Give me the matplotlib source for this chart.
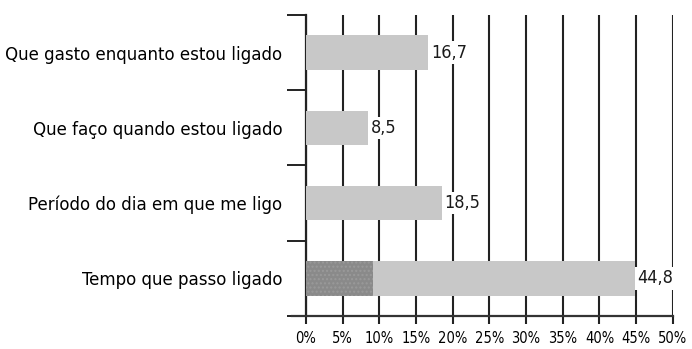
import matplotlib as mpl
mpl.rc('font', family=['DejaVu Sans'], stretch='condensed')
import matplotlib.pyplot as plt
import numpy as np

categories = ['Que gasto enquanto estou ligado',
              'Que faço quando estou ligado',
              'Período do dia em que me ligo',
              'Tempo que passo ligado']
totals = [16.7, 8.5, 18.5, 44.8]
dark_part = [0, 0, 0, 9.2]
value_labels = ['16,7', '8,5', '18,5', '44,8']
xticks = [0, 5, 10, 15, 20, 25, 30, 35, 40, 45, 50]

fig = plt.figure(figsize=(6.92, 3.49), dpi=100)
ax = fig.add_axes([0.442, 0.0946, 0.5304, 0.8624])

y = np.arange(len(categories))[::-1]
light = np.array(totals) - np.array(dark_part)
ax.barh(y, dark_part, height=0.46, color='#8a8a8a', hatch='....',
        edgecolor='#9a9a9a', linewidth=0, zorder=3)
ax.barh(y, light, left=dark_part, height=0.46, color='#c8c8c8', zorder=3)

for yi, t, lab in zip(y, totals, value_labels):
    ax.text(t + 0.4, yi, lab, va='center', ha='left', fontsize=13,
            color='#1a1a1a', zorder=4,
            bbox=dict(facecolor='white', edgecolor='none', pad=1.5))

ax.set_xlim(0, 50)
ax.set_ylim(-0.5, 3.5)
ax.set_xticks(xticks)
ax.set_xticklabels(['%d%%' % v for v in xticks], fontsize=10.5)
ax.xaxis.grid(True, color='#222222', linewidth=1.5, zorder=0)
ax.tick_params(axis='x', length=6, width=1.5, color='#222222', pad=5)

ax.set_yticks(y)
ax.set_yticklabels(categories, fontsize=13.3)
ax.tick_params(axis='y', which='major', length=0, pad=17)
ax.set_yticks(np.arange(-0.5, 4, 1), minor=True)
ax.tick_params(axis='y', which='minor', length=14, width=1.4, color='#222222')

for s in ['top', 'right']:
    ax.spines[s].set_visible(False)
ax.spines['left'].set_linewidth(1.6)
ax.spines['left'].set_color('#222222')
ax.spines['bottom'].set_linewidth(1.6)
ax.spines['bottom'].set_color('#333333')
ax.spines['bottom'].set_bounds(-1.9, 50)
ax.spines['bottom'].set_zorder(5)

fig.savefig('out.png', dpi=100)
